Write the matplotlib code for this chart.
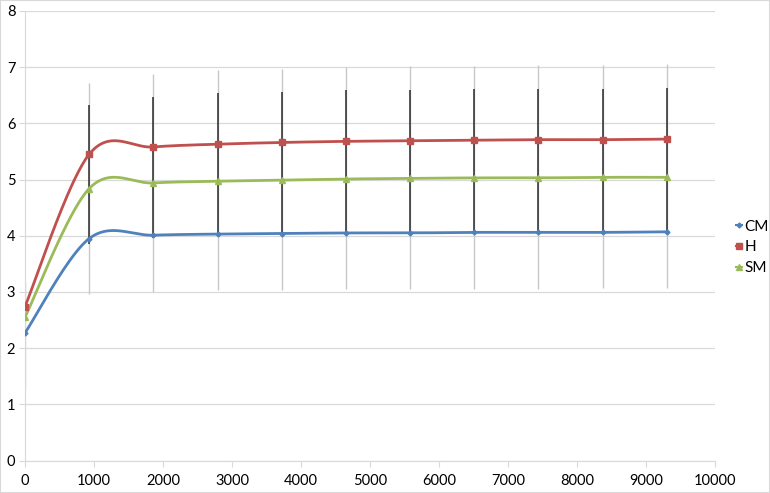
import numpy as np
import matplotlib.pyplot as plt
from matplotlib.patches import Rectangle

plt.rcParams['font.family'] = ['Lato', 'DejaVu Sans']

# sample positions and series means
x = np.arange(11) * 930
cm = [2.27, 3.95, 4.01, 4.03, 4.04, 4.05, 4.05, 4.06, 4.06, 4.06, 4.07]
h = [2.74, 5.45, 5.58, 5.63, 5.66, 5.68, 5.69, 5.70, 5.71, 5.71, 5.72]
sm = [2.55, 4.84, 4.94, 4.97, 4.99, 5.01, 5.02, 5.03, 5.03, 5.04, 5.04]

# dark error bars (low / high)
dark_lo = [1.55, 3.85, 3.96, 4.00, 4.02, 4.03, 4.04, 4.05, 4.05, 4.06, 4.07]
dark_hi = [3.17, 6.33, 6.47, 6.54, 6.56, 6.59, 6.60, 6.61, 6.62, 6.62, 6.63]
# light error bars (low / high)
light_lo = [1.25, 2.96, 3.00, 3.03, 3.04, 3.05, 3.05, 3.06, 3.06, 3.07, 3.07]
light_hi = [3.17, 6.71, 6.87, 6.95, 6.97, 7.01, 7.02, 7.02, 7.04, 7.04, 7.05]

names = ['CM', 'H', 'SM']
colors = ['#4F81BD', '#C0504D', '#9BBB59']
markers = ['D', 's', '^']
msizes = [2.5, 3.8, 3.8]


def smooth(xs, ys, n=40):
    # excel style smoothed line (catmull-rom as bezier)
    p = np.column_stack([xs, ys]).astype(float)
    pe = np.vstack([p[0], p, p[-1]])
    t = np.linspace(0, 1, n)[:, None]
    out = []
    for i in range(len(p) - 1):
        p0, p1, p2, p3 = pe[i], pe[i + 1], pe[i + 2], pe[i + 3]
        c1 = p1 + (p2 - p0) / 6
        c2 = p2 - (p3 - p1) / 6
        out.append((1 - t) ** 3 * p1 + 3 * (1 - t) ** 2 * t * c1
                   + 3 * (1 - t) * t ** 2 * c2 + t ** 3 * p2)
    return np.vstack(out)


fig = plt.figure(figsize=(7.7, 4.93), dpi=100)
ax = fig.add_axes([25 / 770, 32.5 / 493, 690 / 770, 449.5 / 493])

ax.vlines(x, light_lo, light_hi, color='#c8c8c8', lw=1.0, zorder=1)
ax.vlines(x, dark_lo, dark_hi, color='#2a2a2a', lw=1.1, zorder=2)

handles = []
for ys, name, c, m, ms in zip([cm, h, sm], names, colors, markers, msizes):
    curve = smooth(x, ys)
    ax.plot(curve[:, 0], curve[:, 1], color=c, lw=2, zorder=3,
            solid_capstyle='round')
    ax.plot(x, ys, ls='none', marker=m, ms=ms, color=c, zorder=4)
    handles.append(plt.Line2D([], [], color=c, lw=1.5, marker=m,
                              ms=ms, label=name))

ax.set_xlim(0, 10000)
ax.set_ylim(0, 8)
ax.set_xticks(np.arange(0, 10001, 1000))
ax.set_yticks(np.arange(0, 9, 1))
ax.yaxis.grid(True, color='#d9d9d9', lw=0.9)
ax.set_axisbelow(True)
for s in ['top', 'right']:
    ax.spines[s].set_visible(False)
for s in ['left', 'bottom']:
    ax.spines[s].set_color('#d9d9d9')
ax.tick_params(axis='both', colors='#d9d9d9', labelcolor='#000000',
               labelsize=10.5, length=4)
ax.tick_params(axis='x', pad=6)
ax.tick_params(axis='y', pad=3)

fig.legend(handles=handles, loc='center left', bbox_to_anchor=(736 / 770, 0.498),
           frameon=False, fontsize=11, handlelength=0.4, handletextpad=0.15,
           labelspacing=0.45, borderaxespad=0, borderpad=0)

fig.patches.append(Rectangle((0, 0), 1, 1, transform=fig.transFigure,
                             fill=False, ec='#d9d9d9', lw=1.5))

fig.savefig('out.png', dpi=100)
